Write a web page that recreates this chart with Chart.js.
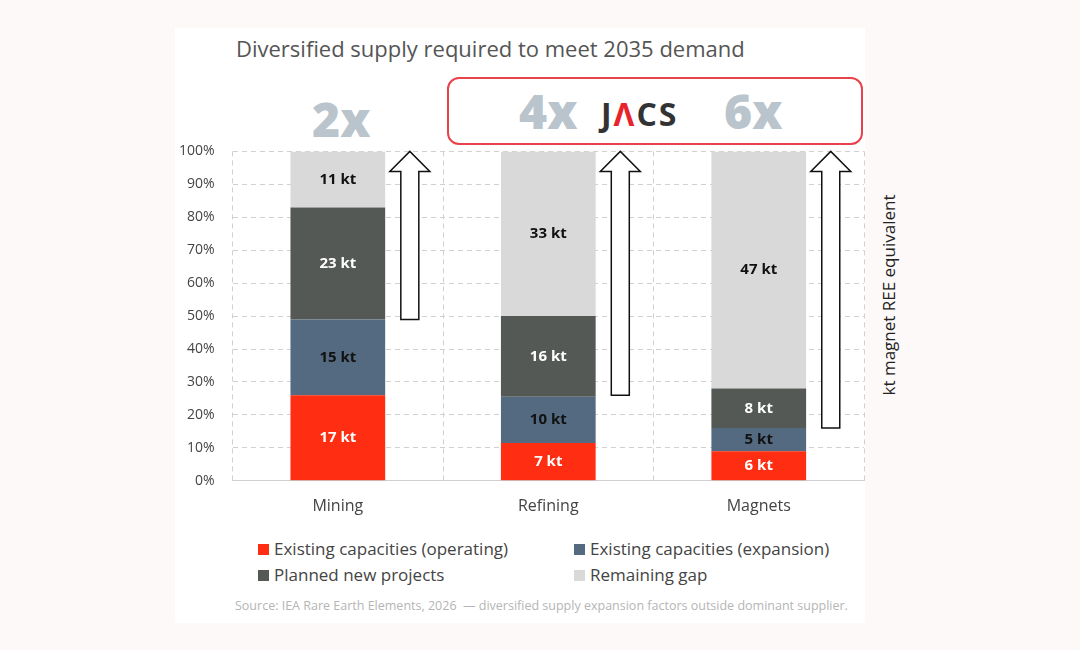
<!DOCTYPE html>
<html>
<head>
<meta charset="utf-8">
<script src="https://cdn.jsdelivr.net/npm/chart.js@4.4.1/dist/chart.umd.min.js"></script>
<style>
  body { margin: 0; width: 1080px; height: 650px; background: #fdf9f9; font-family: "Open Sans", sans-serif; position: relative; overflow: hidden; }
  #panel { position: absolute; left: 175px; top: 28px; width: 690px; height: 595px; background: #fff; }
  #title { position: absolute; left: 236px; top: 33px; font-size: 22px; color: #555; }
  #two { position: absolute; left: 312px; top: 86px; font-size: 48px; font-weight: 800; color: #bac4cc; }
  #box { position: absolute; left: 447px; top: 77px; width: 412px; height: 64px; border: 2px solid #e8434b; border-radius: 12px; }
  #box .f { position: absolute; top: 2px; font-size: 48px; font-weight: 800; color: #bac4cc; line-height: 60px; }
  #logo { position: absolute; left: 152px; top: 13px; font-size: 32px; font-weight: 700; color: #333; letter-spacing: 2px; }
  #ytitle { position: absolute; left: 888px; top: 295px; font-size: 17px; color: #222; transform: translate(-50%, -50%) rotate(-90deg); white-space: nowrap; }
  #wrap { position: absolute; left: 161px; top: 125px; width: 705px; height: 407px; }
  #legend { position: absolute; left: 258px; top: 537px; font-size: 17px; color: #444; display: grid; grid-template-columns: 316px 300px; row-gap: 3px; }
  #legend span.sw { display: inline-block; width: 11px; height: 11px; margin-right: 5px; }
  #source { position: absolute; left: 235px; top: 597px; font-size: 12.5px; color: #b5b5b5; }
</style>
</head>
<body>
<div id="panel"></div>
<div id="title">Diversified supply required to meet 2035 demand</div>
<div id="two">2x</div>
<div id="box"><span class="f" style="left:70px">4x</span><span id="logo">J<span style="color:#e8232a">Λ</span>CS</span><span class="f" style="left:275px">6x</span></div>
<div id="ytitle">kt magnet REE equivalent</div>
<div id="wrap"><canvas id="c"></canvas></div>
<div id="legend"></div>
<div id="source">Source: IEA Rare Earth Elements, 2026 &nbsp;— diversified supply expansion factors outside dominant supplier.</div>
<script>
const categories = ['Mining', 'Refining', 'Magnets'];
const seriesNames = ['Existing capacities (operating)', 'Existing capacities (expansion)', 'Planned new projects', 'Remaining gap'];
const colors = ['#ff2d12', '#546a80', '#555955', '#d9d9d9'];
const labelColors = ['#fff', '#111', '#fff', '#111'];
// share of 2035 demand (%)
const operating = [26, 11.5, 9];
const expansion = [23, 14, 7];
const planned = [34, 24.5, 12];
const gap = [17, 50, 72];
// labels in kt
const operatingKt = ['17 kt', '7 kt', '6 kt'];
const expansionKt = ['15 kt', '10 kt', '5 kt'];
const plannedKt = ['23 kt', '16 kt', '8 kt'];
const gapKt = ['11 kt', '33 kt', '47 kt'];
// arrow from (%) to top
const arrowFrom = [49, 26, 16];

const values = [operating, expansion, planned, gap];
const ktLabels = [operatingKt, expansionKt, plannedKt, gapKt];

const legend = document.getElementById('legend');
seriesNames.forEach((n, i) => {
  legend.innerHTML += '<div><span class="sw" style="background:' + colors[i] + '"></span>' + n + '</div>';
});

const extras = {
  id: 'extras',
  afterDatasetsDraw(chart) {
    const ctx = chart.ctx;
    ctx.save();
    ctx.font = 'bold 15px "Open Sans"';
    ctx.textAlign = 'center';
    ctx.textBaseline = 'middle';
    chart.data.datasets.forEach((ds, i) => {
      chart.getDatasetMeta(i).data.forEach((bar, j) => {
        ctx.fillStyle = labelColors[i];
        ctx.fillText(ktLabels[i][j], bar.x, (bar.y + bar.base) / 2);
      });
    });
    const y = chart.scales.y;
    const meta = chart.getDatasetMeta(0);
    meta.data.forEach((bar, j) => {
      const cx = bar.x + 72;
      const y0 = y.getPixelForValue(arrowFrom[j]);
      const y1 = y.getPixelForValue(100);
      const sw = 9, hw = 20, hh = 20;
      ctx.beginPath();
      ctx.moveTo(cx - sw, y0);
      ctx.lineTo(cx - sw, y1 + hh);
      ctx.lineTo(cx - hw, y1 + hh);
      ctx.lineTo(cx, y1);
      ctx.lineTo(cx + hw, y1 + hh);
      ctx.lineTo(cx + sw, y1 + hh);
      ctx.lineTo(cx + sw, y0);
      ctx.closePath();
      ctx.fillStyle = '#fff';
      ctx.fill();
      ctx.strokeStyle = '#111';
      ctx.lineWidth = 1.5;
      ctx.stroke();
    });
    ctx.restore();
  }
};

new Chart(document.getElementById('c'), {
  type: 'bar',
  data: {
    labels: categories,
    datasets: values.map((v, i) => ({
      label: seriesNames[i],
      data: v,
      backgroundColor: colors[i],
      barPercentage: 0.45,
      categoryPercentage: 1
    }))
  },
  options: {
    responsive: true,
    maintainAspectRatio: false,
    animation: false,
    layout: { padding: { top: 6, right: 2, left: 0, bottom: 0 } },
    plugins: { legend: { display: false }, tooltip: { enabled: false } },
    scales: {
      x: {
        stacked: true,
        grid: { color: '#d0d0d0', drawTicks: false },
        border: { dash: [5, 4], color: '#d0d0d0' },
        ticks: { color: '#444', font: { size: 16, family: '"Open Sans"' }, padding: 16 }
      },
      y: {
        stacked: true,
        min: 0, max: 100,
        grid: { color: '#d0d0d0', drawTicks: false },
        border: { dash: [5, 4], display: false },
        ticks: { stepSize: 10, color: '#444', padding: 18, font: { size: 14, family: '"Open Sans"' }, callback: v => v + '%' }
      }
    }
  },
  plugins: [extras]
});
</script>
</body>
</html>
